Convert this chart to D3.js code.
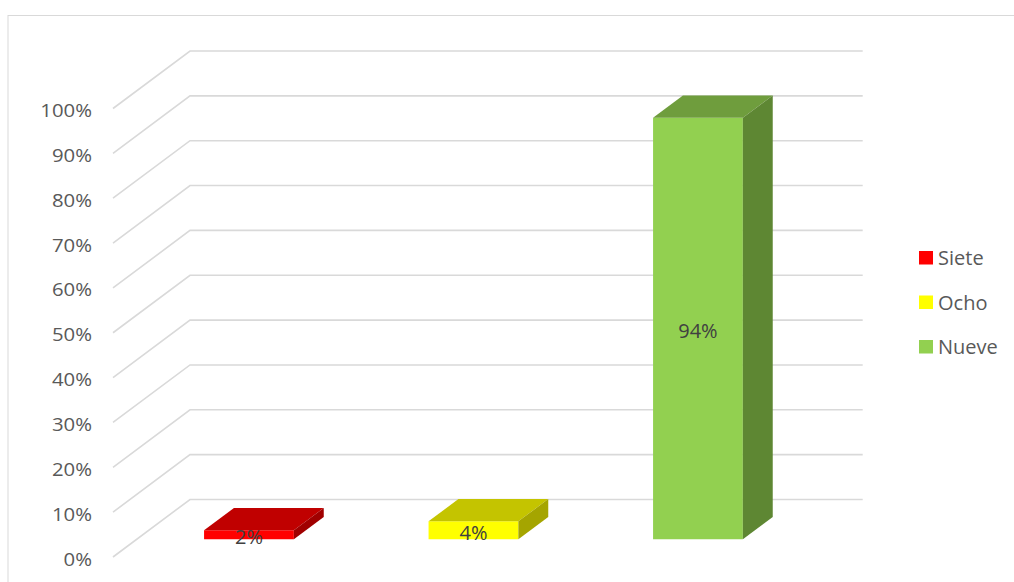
<!DOCTYPE html>
<html>
<head>
<meta charset="utf-8">
<script src="https://cdn.jsdelivr.net/npm/d3@7"></script>
<style>
  html, body { margin: 0; padding: 0; background: #fff; }
  svg { display: block; }
</style>
</head>
<body>
<svg id="chart" width="1014" height="582"></svg>
<script>
// ---- data ----
const categories = ["Siete", "Ocho", "Nueve"];
const values = [0.02, 0.04, 0.94];
const valueLabels = ["2%", "4%", "94%"];
const yTicks = [0, 0.1, 0.2, 0.3, 0.4, 0.5, 0.6, 0.7, 0.8, 0.9, 1.0];
const frontColors = ["#FF0000", "#FFFF00", "#92D050"];
const topColors = ["#C00000", "#C4C400", "#6F9D3D"];
const sideColors = ["#A00000", "#A5A500", "#5E8733"];

// ---- layout ----
const svg = d3.select("#chart");
const floorX = 113, floorY = 557;       // front-left corner of floor
const depth = [77, -57.5];              // vector from front to back
const wallW = 672.7;
const plotH = 448.5;
const f0 = 0.308, f1 = 0.696;           // bar front / back depth fractions

const h = d3.scaleLinear().domain([0, 1]).range([0, plotH]);
const x = d3.scaleBand().domain(categories).range([0, 673.5])
  .paddingInner(0.6).paddingOuter(0.3);
const fmt = d3.format(".0%");

// chart border
svg.append("rect").attr("x", 8).attr("y", 15.5).attr("width", 1100).attr("height", 700)
  .attr("fill", "none").attr("stroke", "#d9d9d9").attr("stroke-width", 1);

// gridlines (back wall + side wall diagonal)
const grid = svg.append("g").attr("stroke", "#d9d9d9").attr("stroke-width", 1.6).attr("fill", "none");
yTicks.forEach(t => {
  const fy = floorY - h(t);
  const bx = floorX + depth[0], by = fy + depth[1];
  grid.append("path").attr("d", `M${floorX},${fy}L${bx},${by}L${bx + wallW},${by}`);
});

// axis labels
const axisG = svg.append("g").attr("fill", "#595959")
  .style("font-family", "'Open Sans', sans-serif").style("font-size", "18px");
yTicks.forEach(t => {
  const fy = floorY - h(t);
  axisG.append("text")
    .attr("transform", `translate(92,${fy + 8.5}) scale(1.13,1)`)
    .attr("text-anchor", "end").text(fmt(t));
});

// bars
const bars = svg.append("g");
categories.forEach((c, i) => {
  const x0 = floorX + f0 * depth[0] + x(c);
  const y0 = floorY + f0 * depth[1];
  const w = x.bandwidth();
  const bh = h(values[i]);
  const dx = (f1 - f0) * depth[0], dy = (f1 - f0) * depth[1];
  const top = y0 - bh;
  const g = bars.append("g");
  // front
  g.append("path").attr("fill", frontColors[i])
    .attr("d", `M${x0},${y0}L${x0 + w},${y0}L${x0 + w},${top}L${x0},${top}Z`);
  // top
  g.append("path").attr("fill", topColors[i])
    .attr("d", `M${x0},${top}L${x0 + w},${top}L${x0 + w + dx},${top + dy}L${x0 + dx},${top + dy}Z`);
  // side
  g.append("path").attr("fill", sideColors[i])
    .attr("d", `M${x0 + w},${y0}L${x0 + w + dx},${y0 + dy}L${x0 + w + dx},${top + dy}L${x0 + w},${top}Z`);
  // label
  g.append("text").attr("x", x0 + w / 2).attr("y", (y0 + top) / 2 + 9.3)
    .attr("text-anchor", "middle").attr("fill", "#404040")
    .style("font-family", "'Open Sans', sans-serif").style("font-size", "20px")
    .text(valueLabels[i]);
});

// legend
const legend = svg.append("g").attr("transform", "translate(919,251)");
categories.forEach((c, i) => {
  const g = legend.append("g").attr("transform", `translate(0,${i * 44.5})`);
  g.append("rect").attr("width", 14).attr("height", 13.5).attr("fill", frontColors[i]);
  g.append("text").attr("x", 19).attr("y", 14.2).attr("fill", "#595959")
    .style("font-family", "'Open Sans', sans-serif").style("font-size", "20px").text(c);
});
</script>
</body>
</html>
